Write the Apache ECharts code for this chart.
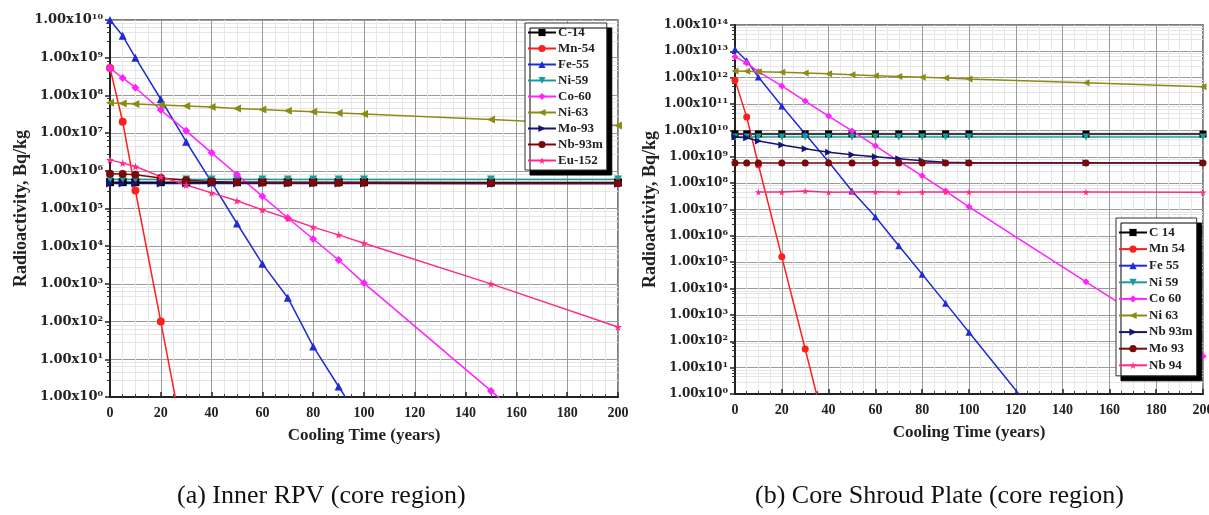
<!DOCTYPE html>
<html>
<head>
<meta charset="utf-8">
<script src="https://cdn.jsdelivr.net/npm/echarts@6/dist/echarts.min.js"></script>
<style>
html,body{margin:0;padding:0;background:#fff;}
#main{width:1209px;height:515px;}
</style>
</head>
<body>
<div id="main"></div>
<script>
// 冷却时间 (years)
var years = [0, 5, 10, 20, 30, 40, 50, 60, 70, 80, 90, 100, 150, 200];
var xTicks = [0, 20, 40, 60, 80, 100, 120, 140, 160, 180, 200];

// (a) Inner RPV
var namesA = ['C-14', 'Mn-54', 'Fe-55', 'Ni-59', 'Co-60', 'Ni-63', 'Mo-93', 'Nb-93m', 'Eu-152'];
var c14A  = [5.0e5, 5.0e5, 5.0e5, 5.0e5, 5.0e5, 5.0e5, 5.0e5, 5.0e5, 5.0e5, 5.0e5, 5.0e5, 5.0e5, 4.9e5, 4.9e5];
var mn54A = [5.3e8, 2.0e7, 3.0e5, 1.0e2, 3.0e-2, null, null, null, null, null, null, null, null, null];
var fe55A = [1.0e10, 3.8e9, 1.0e9, 7.9e7, 5.9e6, 5.0e5, 4.0e4, 3.4e3, 4.3e2, 22, 1.9, 0.17, null, null];
var ni59A = [5.9e5, 5.9e5, 5.9e5, 5.9e5, 5.9e5, 5.9e5, 5.9e5, 5.9e5, 5.9e5, 5.9e5, 5.9e5, 5.9e5, 5.9e5, 5.9e5];
var co60A = [5.3e8, 2.9e8, 1.6e8, 4.1e7, 1.15e7, 3.0e6, 8.0e5, 2.1e5, 5.6e4, 1.55e4, 4.3e3, 1.05e3, 1.45, 2.0e-3];
var ni63A = [6.4e7, 6.1e7, 5.9e7, 5.6e7, 5.2e7, 4.9e7, 4.5e7, 4.2e7, 3.9e7, 3.7e7, 3.4e7, 3.2e7, 2.3e7, 1.6e7];
var mo93A = [4.6e5, 4.6e5, 4.6e5, 4.6e5, 4.6e5, 4.6e5, 4.6e5, 4.6e5, 4.6e5, 4.6e5, 4.6e5, 4.6e5, 4.5e5, 4.5e5];
var nb93mA = [8.3e5, 8.2e5, 7.8e5, 6.4e5, 5.6e5, 5.2e5, 5.0e5, 4.9e5, 4.8e5, 4.8e5, 4.8e5, 4.8e5, 4.7e5, 4.7e5];
var eu152A = [1.95e6, 1.6e6, 1.3e6, 7.0e5, 4.2e5, 2.6e5, 1.6e5, 9.2e4, 5.5e4, 3.2e4, 2.0e4, 1.2e4, 1.0e3, 72];

// (b) Core Shroud Plate
var namesB = ['C 14', 'Mn 54', 'Fe 55', 'Ni 59', 'Co 60', 'Ni 63', 'Nb 93m', 'Mo 93', 'Nb 94'];
var c14B  = [7.4e9, 7.4e9, 7.4e9, 7.4e9, 7.4e9, 7.4e9, 7.4e9, 7.4e9, 7.4e9, 7.4e9, 7.4e9, 7.4e9, 7.3e9, 7.3e9];
var mn54B = [8.1e11, 3.2e10, 5.0e8, 1.6e5, 51, 1.5e-2, null, null, null, null, null, null, null, null];
var fe55B = [1.2e13, 4.4e12, 1.07e12, 8.5e10, 7.3e9, 6.5e8, 5.0e7, 5.3e6, 4.2e5, 3.5e4, 2.8e3, 2.2e2, 7.0e-4, null];
var ni59B = [5.6e9, 5.6e9, 5.6e9, 5.6e9, 5.6e9, 5.6e9, 5.6e9, 5.6e9, 5.6e9, 5.6e9, 5.6e9, 5.6e9, 5.6e9, 5.6e9];
var co60B = [6.2e12, 3.6e12, 1.7e12, 4.9e11, 1.3e11, 3.5e10, 9.6e9, 2.6e9, 6.9e8, 1.9e8, 5.0e7, 1.26e7, 1.8e4, 27];
var ni63B = [1.8e12, 1.75e12, 1.7e12, 1.6e12, 1.5e12, 1.4e12, 1.3e12, 1.2e12, 1.1e12, 1.04e12, 9.7e11, 9.0e11, 6.4e11, 4.5e11];
var nb93mB = [5.6e9, 5.3e9, 4.0e9, 2.8e9, 2.0e9, 1.5e9, 1.2e9, 1.0e9, 8.4e8, 7.0e8, 6.2e8, 6.0e8, 6.0e8, 6.0e8];
var mo93B = [5.8e8, 5.8e8, 5.8e8, 5.8e8, 5.8e8, 5.8e8, 5.8e8, 5.8e8, 5.8e8, 5.8e8, 5.8e8, 5.8e8, 5.8e8, 5.8e8];
var nb94B = [null, null, 4.6e7, 4.6e7, 5.0e7, 4.5e7, 4.6e7, 4.7e7, 4.5e7, 4.6e7, 4.6e7, 4.6e7, 4.6e7, 4.5e7];

var captionA = '(a) Inner RPV (core region)';
var captionB = '(b) Core Shroud Plate (core region)';

// 颜色和符号
var colors = ['#000000', '#ff1e1e', '#1f2bd6', '#1a9c9c', '#ff22ff', '#8c8c14', '#141478', '#7a0a0a', '#ff2a88'];
var triDown = 'path://M0,0L10,0L5,9Z';
var triLeft = 'path://M9,0L9,10L0,5Z';
var triRight = 'path://M0,0L9,5L0,10Z';
var star = 'path://M50,0L61,35L98,35L68,57L79,91L50,70L21,91L32,57L2,35L39,35Z';
var symbols = ['rect', 'circle', 'triangle', triDown, 'diamond', triLeft, triRight, 'circle', star];

var serif = 'Liberation Serif';
var labelFont = 'DejaVu Serif';

function pts(vals) {
    return years.map(function (t, i) { return [t, vals[i]]; });
}

function makeSeries(name, vals, color, symbol, idx, size) {
    return {
        name: name,
        type: 'line',
        xAxisIndex: idx,
        yAxisIndex: idx,
        data: pts(vals),
        symbol: symbol,
        symbolSize: size,
        showAllSymbol: true,
        lineStyle: { color: color, width: 1.5 },
        itemStyle: { color: color },
        animation: false
    };
}

var seriesList = [];
var valsA = [c14A, mn54A, fe55A, ni59A, co60A, ni63A, mo93A, nb93mA, eu152A];
var valsB = [c14B, mn54B, fe55B, ni59B, co60B, ni63B, nb93mB, mo93B, nb94B];
namesA.forEach(function (n, i) { seriesList.push(makeSeries(n, valsA[i], colors[i], symbols[i], 0, 8)); });
namesB.forEach(function (n, i) { seriesList.push(makeSeries(n, valsB[i], colors[i], symbols[i], 1, 7)); });

function xAxisCfg(idx) {
    return {
        type: 'value',
        gridIndex: idx,
        min: 0,
        max: 200,
        interval: 20,
        name: 'Cooling Time (years)',
        nameLocation: 'middle',
        nameGap: 30,
        nameTextStyle: { fontFamily: serif, fontWeight: 'bold', fontSize: 17, color: '#222' },
        axisLine: { lineStyle: { color: '#222', width: 2 } },
        axisTick: { inside: true, length: 5, lineStyle: { color: '#222', width: 1.5 } },
        minorTick: { show: true, splitNumber: 4, length: 3, lineStyle: { color: '#444' } },
        axisLabel: {
            fontFamily: serif, fontWeight: 'bold', fontSize: 14, color: '#222', margin: 9,
            formatter: function (v) { return xTicks.indexOf(v) >= 0 ? String(v) : ''; }
        },
        splitLine: { show: true, lineStyle: { color: '#9a9a9a', width: 1 } },
        minorSplitLine: { show: true, lineStyle: { color: '#e6e6e6', width: 1 } }
    };
}

function yAxisCfg(idx, maxExp, fs, gap) {
    return {
        type: 'log',
        logBase: 10,
        gridIndex: idx,
        min: 1,
        max: Math.pow(10, maxExp),
        interval: 1,
        name: 'Radioactivity, Bq/kg',
        nameLocation: 'middle',
        nameGap: gap,
        nameTextStyle: { fontFamily: serif, fontWeight: 'bold', fontSize: 18, color: '#222' },
        axisLine: { show: true, lineStyle: { color: '#222', width: 2 } },
        axisTick: { length: 5, lineStyle: { color: '#222', width: 1.5 } },
        minorTick: { show: true, splitNumber: 5, length: 3, lineStyle: { color: '#333' } },
        axisLabel: {
            margin: 7,
            formatter: function (v) {
                var n = Math.round(Math.log(v) / Math.LN10);
                return '{m|1.00x10}{e|' + n + '}';
            },
            rich: {
                m: { fontFamily: labelFont, fontWeight: 'bold', fontSize: fs, color: '#222' },
                e: { fontFamily: labelFont, fontWeight: 'bold', fontSize: 8, color: '#222', verticalAlign: 'top', padding: [0, 0, 6, 0] }
            }
        },
        splitLine: { show: true, lineStyle: { color: '#9a9a9a', width: 1 } },
        minorSplitLine: { show: true, lineStyle: { color: '#e6e6e6', width: 1 } }
    };
}

function legendCfg(names, left, top, gap, pad) {
    return {
        data: names,
        orient: 'vertical',
        left: left,
        top: top,
        itemWidth: 28,
        itemHeight: 9,
        itemGap: gap,
        padding: pad,
        backgroundColor: '#fff',
        borderColor: '#333',
        borderWidth: 1,
        borderRadius: 0,
        shadowColor: '#000',
        shadowBlur: 0,
        shadowOffsetX: 5,
        shadowOffsetY: 5,
        textStyle: { fontFamily: serif, fontWeight: 'bold', fontSize: 13, color: '#222', padding: [0, 0, 0, -3] }
    };
}

var myChart = echarts.init(document.getElementById('main'));

var option = {
    backgroundColor: '#fff',
    animation: false,
    grid: [
        { left: 110, top: 20, width: 508, height: 377, outerBoundsMode: 'none', show: true, borderColor: '#555', borderWidth: 1.5, backgroundColor: '#fff' },
        { left: 735, top: 25, width: 468, height: 369, outerBoundsMode: 'none', show: true, borderColor: '#555', borderWidth: 1.5, backgroundColor: '#fff' }
    ],
    xAxis: [xAxisCfg(0), xAxisCfg(1)],
    yAxis: [yAxisCfg(0, 10, 13, 79), yAxisCfg(1, 14, 12, 76)],
    legend: [
        legendCfg(namesA, 525, 23, 3, [3, 4, 3, 2]),
        legendCfg(namesB, 1116, 218, 3.6, [8, 4, 4, 2])
    ],
    graphic: [
        { type: 'text', left: 177, top: 483, style: { text: captionA, font: '26px "Liberation Serif"', fill: '#111' } },
        { type: 'text', left: 755, top: 483, style: { text: captionB, font: '26px "Liberation Serif"', fill: '#111' } }
    ],
    series: seriesList
};

myChart.setOption(option);
</script>
</body>
</html>
